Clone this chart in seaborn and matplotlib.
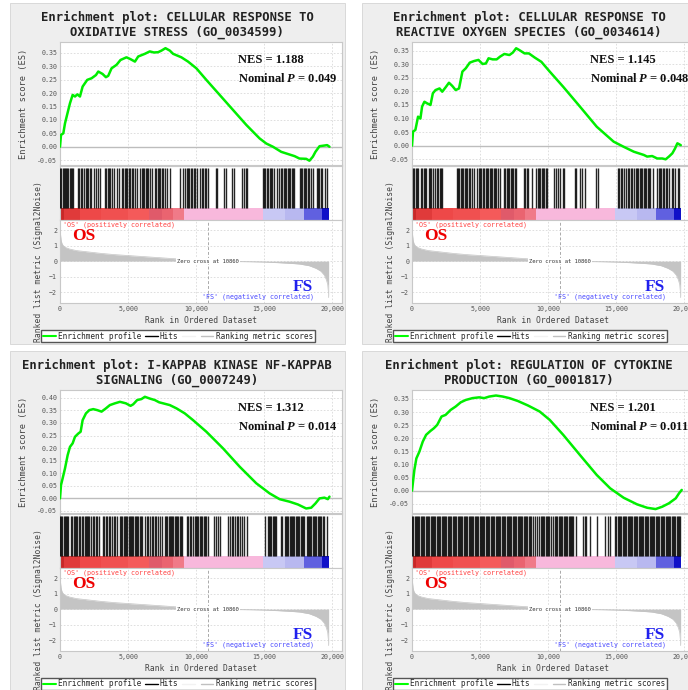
import matplotlib
matplotlib.use("Agg")
import matplotlib.pyplot as plt
from matplotlib.patches import Rectangle
from matplotlib.lines import Line2D
import numpy as np
import pandas as pd
import seaborn as sns

sns.set_theme(style="white")
plt.rcParams['font.family'] = ['DejaVu Sans Mono', 'DejaVu Sans']
plt.rcParams['mathtext.fontset'] = 'custom'
plt.rcParams['mathtext.it'] = 'Liberation Serif:italic:bold'
plt.rcParams['mathtext.rm'] = 'Liberation Serif:bold'

# ---------------- data ----------------
TITLE_LINE1 = ["Enrichment plot: CELLULAR RESPONSE TO",
               "Enrichment plot: CELLULAR RESPONSE TO",
               "Enrichment plot: I-KAPPAB KINASE NF-KAPPAB",
               "Enrichment plot: REGULATION OF CYTOKINE"]
TITLE_LINE2 = ["OXIDATIVE STRESS (GO_0034599)",
               "REACTIVE OXYGEN SPECIES (GO_0034614)",
               "SIGNALING (GO_0007249)",
               "PRODUCTION (GO_0001817)"]
NES = ["1.188", "1.145", "1.312", "1.201"]
PVAL = ["0.049", "0.048", "0.014", "0.011"]

ES1_RANK = [0, 73, 244, 366, 610, 733, 928, 1100, 1270, 1465, 1660, 2000, 2320, 2640, 2810,
            3125, 3370, 3540, 3785, 4150, 4440, 4880, 5180, 5500, 5740, 6230, 6590, 6890, 7200,
            7450, 7740, 8060, 8300, 8910, 9400, 10010, 10740, 11720, 12700, 13680, 14650, 15140,
            15630, 16240, 16850, 17220, 17580, 18070, 18310, 18560, 18750, 19050, 19340, 19610, 19780]
ES1_VALUE = [0, 0.044, 0.050, 0.087, 0.137, 0.162, 0.193, 0.187, 0.195, 0.187, 0.224, 0.249, 0.255, 0.267, 0.280,
             0.271, 0.259, 0.264, 0.292, 0.305, 0.323, 0.333, 0.326, 0.317, 0.336, 0.346, 0.355, 0.351, 0.352,
             0.358, 0.367, 0.358, 0.346, 0.333, 0.317, 0.292, 0.249, 0.193, 0.137, 0.081, 0.031, 0.012,
             0.000, -0.019, -0.029, -0.035, -0.044, -0.045, -0.052, -0.037, -0.019, 0.002, 0.004, 0.006, 0.000]

ES2_RANK = [0, 74, 247, 320, 444, 617, 740, 912, 1110, 1356, 1530, 1726, 2022, 2220, 2466, 2713,
            2960, 3206, 3452, 3700, 3945, 4240, 4560, 4880, 5180, 5425, 5620, 5920, 6215, 6460,
            6780, 7150, 7400, 7645, 7890, 8260, 8580, 9000, 9495, 10110, 11100, 12330, 13560,
            14800, 15540, 16280, 17015, 17260, 17630, 18000, 18370, 18620, 18860, 19110, 19310,
            19480, 19730]
ES2_VALUE = [0, 0.052, 0.058, 0.076, 0.107, 0.100, 0.144, 0.162, 0.156, 0.150, 0.193, 0.205, 0.211, 0.199, 0.215, 0.232,
             0.220, 0.205, 0.211, 0.273, 0.285, 0.306, 0.312, 0.316, 0.301, 0.303, 0.322, 0.318, 0.318, 0.328,
             0.338, 0.334, 0.343, 0.359, 0.352, 0.340, 0.340, 0.325, 0.309, 0.273, 0.217, 0.144, 0.070,
             0.015, -0.004, -0.022, -0.034, -0.040, -0.038, -0.047, -0.047, -0.050, -0.040, -0.028, -0.010,
             0.009, 0.002]

ES3_RANK = [0, 73, 195, 366, 562, 733, 928, 1100, 1343, 1514, 1660, 1905, 2150, 2440, 2735, 3050,
            3370, 3660, 4030, 4400, 4835, 5180, 5370, 5665, 5980, 6230, 6590, 6960, 7280, 7570,
            8060, 8550, 9160, 9770, 10745, 11965, 13190, 14410, 15385, 16120, 16850, 17460, 18070,
            18440, 18750, 19050, 19410, 19660, 19780]
ES3_VALUE = [0, 0.053, 0.080, 0.119, 0.172, 0.205, 0.219, 0.245, 0.258, 0.265, 0.311, 0.338, 0.351, 0.355, 0.351, 0.345,
             0.358, 0.371, 0.378, 0.384, 0.378, 0.368, 0.374, 0.391, 0.395, 0.404, 0.397, 0.391, 0.382, 0.378,
             0.371, 0.358, 0.338, 0.311, 0.265, 0.199, 0.126, 0.060, 0.020, -0.003, -0.013, -0.024, -0.040,
             -0.037, -0.020, 0.000, 0.003, -0.003, 0.007]

ES4_RANK = [0, 74, 173, 320, 542, 789, 1036, 1356, 1603, 1850, 2170, 2466, 2836, 3206, 3576, 3945,
            4440, 4932, 5300, 5670, 6165, 6660, 7150, 7770, 8510, 9370, 10110, 11100, 12330, 13560,
            14550, 15540, 16520, 17260, 17880, 18370, 18860, 19360, 19600, 19800]
ES4_VALUE = [0, 0.034, 0.079, 0.123, 0.149, 0.187, 0.213, 0.228, 0.238, 0.251, 0.283, 0.289, 0.308, 0.321, 0.337, 0.346,
             0.353, 0.356, 0.353, 0.359, 0.363, 0.359, 0.353, 0.342, 0.325, 0.302, 0.270, 0.213, 0.136, 0.060,
             0.009, -0.027, -0.052, -0.065, -0.070, -0.061, -0.048, -0.029, -0.010, 0.003]

HITS_1 = [20, 110, 200, 290, 370, 450, 520, 610, 700, 790, 880, 970, 1330, 1420, 1520, 1640, 1780, 1880,
          1990, 2080, 2180, 2300, 2480, 2650, 2790, 2900, 3300, 3400, 3500, 3600, 3700, 3800, 3950, 4150,
          4350, 4550, 4650, 4750, 4850, 4950, 5050, 5150, 5250, 5340, 5500, 5680, 5850, 5990, 6090, 6190,
          6290, 6390, 6490, 6580, 6750, 6970, 7070, 7170, 7270, 7370, 7470, 7570, 7680, 7850, 8050, 8800,
          9000, 9150, 9300, 9400, 9500, 9600, 9700, 9800, 9890, 10050, 10250, 10400, 10500, 10620, 10750,
          10900, 11450, 11560, 12020, 12200, 12620, 12740, 13350, 13500, 13650, 13760, 14880, 14980, 15080,
          15180, 15280, 15380, 15480, 15580, 15680, 15900, 16110, 16210, 16310, 16410, 16510, 16610, 16710,
          16810, 16910, 17010, 17110, 17200, 17590, 17690, 17790, 17890, 17990, 18090, 18190, 18290, 18450,
          18600, 18840, 18940, 19040, 19140, 19260, 19420, 19600]
HITS_2 = [60, 160, 260, 360, 450, 670, 770, 870, 960, 1060, 1220, 1330, 1410, 1530, 1680, 1840, 1940, 2040,
          2140, 2220, 3270, 3370, 3470, 3570, 3670, 3770, 3870, 3970, 4070, 4170, 4270, 4370, 4550, 4780,
          4900, 5000, 5100, 5200, 5300, 5400, 5500, 5600, 5700, 5800, 5900, 6000, 6100, 6200, 6300, 6450,
          6750, 6850, 6950, 7050, 7150, 7250, 7350, 7450, 7550, 7630, 8230, 8330, 8430, 8530, 8800, 9120,
          9220, 9320, 9420, 9520, 9620, 9720, 9820, 9920, 10400, 10580, 10720, 10900, 11050, 11180, 11950,
          12060, 12320, 12500, 12670, 13500, 13680, 15120, 15220, 15320, 15420, 15550, 15700, 15860, 15960,
          16060, 16150, 16310, 16410, 16510, 16610, 16710, 16810, 16910, 17010, 17110, 17210, 17310, 17410,
          17480, 17700, 18010, 18110, 18210, 18310, 18410, 18510, 18610, 18730, 18850, 19050, 19190, 19300,
          19500, 19620]
HITS_3 = [20, 100, 180, 260, 340, 420, 500, 620, 780, 900, 1000, 1090, 1180, 1270, 1360, 1450, 1620, 1710,
          1800, 1890, 1980, 2050, 2150, 2280, 2400, 2500, 2620, 2750, 2880, 3160, 3250, 3340, 3460, 3600,
          3700, 3820, 3950, 4050, 4160, 4400, 4490, 4580, 4670, 4760, 4850, 4940, 5030, 5120, 5210, 5300,
          5390, 5480, 5570, 5660, 5750, 5840, 5930, 6000, 6240, 6350, 6480, 6600, 6720, 6820, 6950, 7080,
          7200, 7330, 7460, 7700, 7790, 7880, 7970, 8060, 8150, 8240, 8330, 8420, 8510, 8600, 8690, 8780,
          8870, 8960, 9300, 9400, 9520, 9640, 9760, 9880, 9970, 10060, 10150, 10280, 10370, 10460, 10550,
          10640, 10730, 10830, 11300, 11450, 11600, 11710, 12320, 12480, 12590, 12700, 12850, 12960, 13060,
          13180, 13350, 13540, 13700, 15020, 15250, 15340, 15430, 15520, 15610, 15700, 15790, 15890, 16200,
          16330, 16490, 16580, 16670, 16760, 16850, 16940, 17030, 17120, 17210, 17300, 17390, 17480, 17570,
          17660, 17750, 17840, 17940, 18100, 18190, 18280, 18370, 18460, 18550, 18640, 18730, 18820, 18910,
          19000, 19090, 19180, 19270, 19400, 19580]
HITS_4 = [10, 100, 190, 280, 370, 460, 550, 640, 730, 820, 910, 1000, 1090, 1180, 1270, 1360, 1450, 1540,
          1630, 1720, 1810, 1900, 1990, 2080, 2170, 2260, 2350, 2440, 2530, 2620, 2710, 2800, 2890, 2980,
          3070, 3160, 3250, 3340, 3430, 3520, 3610, 3700, 3790, 3880, 3970, 4060, 4150, 4240, 4330, 4420,
          4510, 4600, 4690, 4780, 4870, 4960, 5050, 5140, 5230, 5320, 5410, 5500, 5590, 5680, 5770, 5860,
          5950, 6040, 6130, 6220, 6310, 6400, 6490, 6580, 6670, 6760, 6850, 6940, 7030, 7120, 7210, 7300,
          7390, 7480, 7570, 7660, 7750, 7840, 7930, 8020, 8110, 8200, 8290, 8380, 8470, 8560, 8650, 8740,
          8900, 9050, 9200, 9350, 9450, 9540, 9630, 9720, 9810, 9900, 9990, 10080, 10170, 10350, 10500,
          10590, 10680, 10770, 10860, 10950, 11040, 11130, 11220, 11310, 11400, 11490, 11580, 11670, 11760,
          11850, 12050, 12580, 12680, 12790, 13050, 13550, 14200, 14380, 14520, 14920, 15010, 15100, 15190,
          15280, 15370, 15460, 15550, 15640, 15730, 15820, 15910, 16000, 16090, 16180, 16270, 16360, 16450,
          16540, 16630, 16720, 16810, 16900, 16990, 17080, 17170, 17260, 17350, 17440, 17530, 17620, 17710,
          17800, 17890, 17980, 18070, 18160, 18250, 18340, 18430, 18520, 18610, 18700, 18790, 18880, 18970,
          19060, 19150, 19240, 19330, 19420, 19510, 19600, 19690]

ES_YLIM = [(-0.068, 0.390), (-0.071, 0.382), (-0.058, 0.431), (-0.085, 0.384)]
ES_YTOP = [0.35, 0.35, 0.40, 0.35]

METRIC_RANK = [0, 30, 80, 150, 250, 400, 700, 1200, 2000, 3000, 4000, 5000, 6000, 7000, 8000, 9000,
               10000, 10860, 12000, 13000, 14000, 15000, 16000, 17000, 17600, 18300, 18800, 19150,
               19400, 19550, 19650, 19700, 19720]
METRIC_VALUE = [2.2, 1.8, 1.35, 1.12, 0.98, 0.88, 0.78, 0.68, 0.6, 0.5, 0.42, 0.36, 0.3, 0.24, 0.18, 0.12,
                0.05, 0.0, -0.02, -0.03, -0.04, -0.06, -0.1, -0.15, -0.19, -0.3, -0.47, -0.65,
                -0.9, -1.2, -1.5, -2.0, -2.35]
ZERO_CROSS = 10860

BAR_EDGES = [0, 300, 1500, 3000, 5000, 6500, 7500, 8300, 9100, 14900, 16500, 17900, 19200, 19720]
BAR_COLORS = ['#c82828', '#e03a3a', '#ee4848', '#f05050', '#f45a5a', '#e05a6a', '#ea6470', '#f07a88',
              '#f8b8dc', '#c8c8f4', '#b8b8f0', '#6060e0', '#1010c8']

XTICKS = [0, 5000, 10000, 15000, 20000]
XTICK_LABELS = ["0", "5,000", "10,000", "15,000", "20,000"]
XMAX = 20700

ES_RANKS = [ES1_RANK, ES2_RANK, ES3_RANK, ES4_RANK]
ES_VALUES = [ES1_VALUE, ES2_VALUE, ES3_VALUE, ES4_VALUE]
HITS = [HITS_1, HITS_2, HITS_3, HITS_4]

# ---------------- figure ----------------
W, H = 688, 690
fig = plt.figure(figsize=(W / 100, H / 100), dpi=100)
fig.patch.set_facecolor('white')

MONO = 'DejaVu Sans Mono'
SERIF = 'Liberation Serif'
GRID = dict(color='#d9d9d9', lw=0.6, ls=(0, (2, 2)))


def box(x0, y0, x1, y1):
    return [x0 / W, 1 - y1 / H, (x1 - x0) / W, (y1 - y0) / H]


def style_spines(a):
    for s in a.spines.values():
        s.set_color('#c8c8c8')
        s.set_linewidth(0.8)
        s.set_visible(True)


for i in range(4):
    r, c = divmod(i, 2)
    dx, dy = 352 * c, 348 * r

    fig.patches.append(Rectangle(((10 + dx) / W, 1 - (344 + dy) / H), 335 / W, 341 / H,
                                 transform=fig.transFigure, facecolor='#eeeeee',
                                 edgecolor='#d4d4d4', lw=0.6, zorder=-5))
    fig.text((177 + dx) / W, 1 - (17 + dy) / H, TITLE_LINE1[i], ha='center', va='center',
             fontsize=8.8, weight='bold', family=MONO, color='#222222')
    fig.text((177 + dx) / W, 1 - (32 + dy) / H, TITLE_LINE2[i], ha='center', va='center',
             fontsize=8.8, weight='bold', family=MONO, color='#222222')

    # ---- enrichment score ----
    ax = fig.add_axes(box(60 + dx, 42 + dy, 342 + dx, 165 + dy))
    ax.set_zorder(2)
    ax.set_facecolor('white')
    ax.set_axisbelow(True)
    df = pd.DataFrame({'rank': ES_RANKS[i], 'es': ES_VALUES[i]})
    ax.axhline(0, color='#bdbdbd', lw=1.0, zorder=1)
    sns.lineplot(data=df, x='rank', y='es', ax=ax, color='#00ee00', lw=1.8,
                 sort=False, estimator=None, zorder=3)
    ax.set_xlim(0, XMAX)
    ax.set_ylim(*ES_YLIM[i])
    ticks = np.round(np.arange(-0.05, ES_YTOP[i] + 1e-9, 0.05), 2)
    ax.set_yticks(ticks)
    ax.set_yticklabels([f"{t:.2f}" for t in ticks])
    ax.set_xticks(XTICKS)
    ax.set_xticklabels([])
    ax.grid(True, **GRID)
    ax.set_xlabel('')
    ax.set_ylabel('Enrichment score (ES)', fontsize=6.2, color='#444444', family=MONO)
    ax.yaxis.set_label_coords(-0.131, 0.5)
    ax.yaxis.label.set_va('center')
    ax.tick_params(axis='both', labelsize=4.8, colors='#555555', length=0, pad=2)
    style_spines(ax)
    ax.text(0.631, 0.854, f"NES = {NES[i]}", transform=ax.transAxes, family=SERIF,
            weight='bold', fontsize=9, va='center', ha='left', color='#111111')
    ax.text(0.631, 0.707, f"Nominal $P$ = {PVAL[i]}", transform=ax.transAxes, family=SERIF,
            weight='bold', fontsize=9, va='center', ha='left', color='#111111')

    # ---- hits + colour bar ----
    hx = fig.add_axes(box(60 + dx, 166 + dy, 342 + dx, 220 + dy))
    hx.set_zorder(2)
    hx.set_facecolor('white')
    hx.set_axisbelow(True)
    hx.set_xlim(0, XMAX)
    hx.set_ylim(0, 1)
    for e0, e1, col in zip(BAR_EDGES[:-1], BAR_EDGES[1:], BAR_COLORS):
        hx.add_patch(Rectangle((e0, 0), e1 - e0, 0.222, facecolor=col, lw=0, zorder=2))
    hx.vlines(HITS[i], 0.222, 0.963, color='black', lw=1.0, alpha=0.85, zorder=3)
    hx.set_xticks(XTICKS)
    hx.set_xticklabels([])
    hx.set_yticks([])
    hx.grid(True, axis='x', **GRID)
    hx.tick_params(length=0)
    style_spines(hx)

    # ---- ranked list metric ----
    rx = fig.add_axes(box(60 + dx, 220 + dy, 342 + dx, 303 + dy))
    rx.set_zorder(2)
    rx.set_facecolor('white')
    rx.set_axisbelow(True)
    rx.fill_between(METRIC_RANK, METRIC_VALUE, 0, color='#c4c4c4', lw=0, zorder=2)
    sns.lineplot(x=METRIC_RANK, y=METRIC_VALUE, ax=rx, color='#c4c4c4', lw=0.5,
                 estimator=None, sort=False, zorder=2)
    rx.axvline(ZERO_CROSS, color='#aaaaaa', lw=0.7, ls=(0, (3, 2)), zorder=1)
    rx.set_xlim(0, XMAX)
    rx.set_ylim(-2.7, 2.65)
    rx.set_xticks(XTICKS)
    rx.set_xticklabels(XTICK_LABELS)
    rx.set_yticks([-2, -1, 0, 1, 2])
    rx.grid(True, **GRID)
    rx.tick_params(axis='both', labelsize=4.8, colors='#555555', length=0, pad=2)
    rx.set_xlabel('Rank in Ordered Dataset', fontsize=5.8, color='#444444', family=MONO)
    rx.xaxis.set_label_coords(0.5, -0.205)
    rx.xaxis.label.set_va('center')
    rx.set_ylabel('Ranked list metric (Signal2Noise)', fontsize=5.8, color='#444444', family=MONO)
    rx.yaxis.set_label_coords(-0.075, 0.5)
    rx.yaxis.label.set_va('center')
    style_spines(rx)
    rx.text(ZERO_CROSS, 0, f"Zero cross at {ZERO_CROSS}", ha='center', va='center',
            fontsize=4.0, family=MONO, color='#333333', zorder=4,
            bbox=dict(facecolor='white', edgecolor='none', pad=0.6))
    rx.text(0.011, 0.945, "'OS' (positively correlated)", transform=rx.transAxes, ha='left',
            va='center', fontsize=4.8, family=MONO, color='#ff4040')
    rx.text(0.043, 0.81, "OS", transform=rx.transAxes, ha='left', va='center', fontsize=12.5,
            family=SERIF, weight='bold', color='#ee0000')
    rx.text(0.90, 0.072, "'FS' (negatively correlated)", transform=rx.transAxes, ha='right',
            va='center', fontsize=4.8, family=MONO, color='#4848ff')
    rx.text(0.897, 0.193, "FS", transform=rx.transAxes, ha='right', va='center', fontsize=12.5,
            family=SERIF, weight='bold', color='#2020ee')

    handles = [Line2D([], [], color='#00ff00', lw=1.5), Line2D([], [], color='black', lw=1.0),
               Line2D([], [], color='#f2f2f2', lw=1.0), Line2D([], [], color='#c0c0c0', lw=1.0)]
    labels = ['Enrichment profile', 'Hits', '', 'Ranking metric scores']
    leg = fig.legend(handles, labels, loc='center',
                     bbox_to_anchor=((178 + dx) / W, 1 - (336 + dy) / H),
                     ncol=4, prop={'family': MONO, 'size': 5.6}, frameon=True, fancybox=False,
                     edgecolor='#555555', framealpha=1, handlelength=1.6, handletextpad=0.3,
                     columnspacing=0.5, borderpad=0.25, borderaxespad=0)
    leg.get_frame().set_linewidth(1.0)
    leg.set_zorder(3)

fig.savefig('out.png', dpi=100, facecolor='white')
